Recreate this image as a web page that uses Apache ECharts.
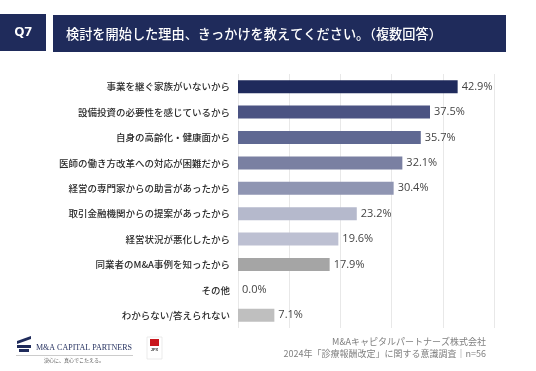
<!DOCTYPE html>
<html><head><meta charset="utf-8">
<script src="https://cdn.jsdelivr.net/npm/echarts@6/dist/echarts.min.js"></script>
<style>html,body{margin:0;padding:0;background:#fff}#c{width:536px;height:371px}</style>
</head><body><div id="c"></div>
<script>
const categories = ['事業を継ぐ家族がいないから','設備投資の必要性を感じているから','自身の高齢化・健康面から','医師の働き方改革への対応が困難だから','経営の専門家からの助言があったから','取引金融機関からの提案があったから','経営状況が悪化したから','同業者のM&A事例を知ったから','その他','わからない/答えられない'];
const values = [42.9, 37.5, 35.7, 32.1, 30.4, 23.2, 19.6, 17.9, 0.0, 7.1];
const barColors = ['#1f2a5c','#4b5382','#5f6892','#7a80a2','#8f95b2','#b5b9cc','#bdc0d2','#a5a5a5','#bfbfbf','#bfbfbf'];
const titleText = '検討を開始した理由、きっかけを教えてください。（複数回答）';
const qLabel = 'Q7';
const footer1 = 'M&Aキャピタルパートナーズ株式会社';
const footer2 = '2024年「診療報酬改定」に関する意識調査｜n=56';

const chart = echarts.init(document.getElementById('c'));
const font = '"Noto Sans CJK JP","Noto Sans",sans-serif';
chart.setOption({
  animation:false,
  grid:{left:238,right:42,top:74,bottom:43},
  xAxis:{type:'value',min:0,max:50,interval:10,axisLabel:{show:false},axisLine:{show:false},axisTick:{show:false},
    splitLine:{lineStyle:{color:'#e8e8e8',width:1}}},
  yAxis:{type:'category',inverse:true,data:categories,axisLine:{show:false},axisTick:{show:false},
    axisLabel:{color:'#2a2a2a',fontSize:9.5,fontWeight:500,fontFamily:font,margin:8}},
  series:[{type:'bar',barWidth:13,
    data:values.map((v,i)=>({value:v,itemStyle:{color:barColors[i]}})),
    label:{show:true,position:'right',distance:4,color:'#444',fontSize:11,fontFamily:'"Open Sans","Noto Sans",sans-serif',
      formatter:p=>p.value.toFixed(1)+'%'}}],
  graphic:[
    {type:'rect',shape:{x:0,y:14,width:46,height:37},style:{fill:'#1f2b5b'}},
    {type:'text',x:23,y:32.5,style:{text:qLabel,fill:'#fff',font:'bold 13px "Noto Sans",sans-serif',textAlign:'center',textVerticalAlign:'middle'}},
    {type:'rect',shape:{x:53,y:15,width:453,height:37},style:{fill:'#1f2b5b'}},
    {type:'text',x:66,y:33.5,style:{text:titleText,fill:'#fff',font:'500 13.2px '+font,textAlign:'left',textVerticalAlign:'middle'}},
    // logo
    {type:'polygon',shape:{points:[[17,341],[31,336],[31,339],[17,344]]},style:{fill:'#1f2b5b'}},
    {type:'rect',shape:{x:17,y:345,width:14,height:3},style:{fill:'#1f2b5b'}},
    {type:'rect',shape:{x:19,y:349,width:10,height:3},style:{fill:'#1f2b5b'}},
    {type:'text',x:36,y:348,style:{text:'M&A CAPITAL PARTNERS',fill:'#1f2b5b',font:'8px "Liberation Serif",serif',textVerticalAlign:'middle'}},
    {type:'rect',shape:{x:16,y:355,width:117,height:0.6},style:{fill:'#999'}},
    {type:'text',x:74,y:360,style:{text:'決心に、真心でこたえる。',fill:'#555',font:'5px '+font,textAlign:'center',textVerticalAlign:'middle'}},
    {type:'rect',shape:{x:147,y:337,width:15,height:22},style:{fill:'#fff',stroke:'#ddd',lineWidth:0.6}},
    {type:'rect',shape:{x:150,y:339,width:9,height:7},style:{fill:'#c8161d'}},
    {type:'text',x:154.5,y:350,style:{text:'JPX',fill:'#333',font:'bold 4px sans-serif',textAlign:'center',textVerticalAlign:'middle'}},
    {type:'text',x:486,y:342,style:{text:footer1,fill:'#808080',font:'9px '+font,textAlign:'right',textVerticalAlign:'middle'}},
    {type:'text',x:486,y:354,style:{text:footer2,fill:'#808080',font:'9px '+font,textAlign:'right',textVerticalAlign:'middle'}}
  ]
});
</script></body></html>
